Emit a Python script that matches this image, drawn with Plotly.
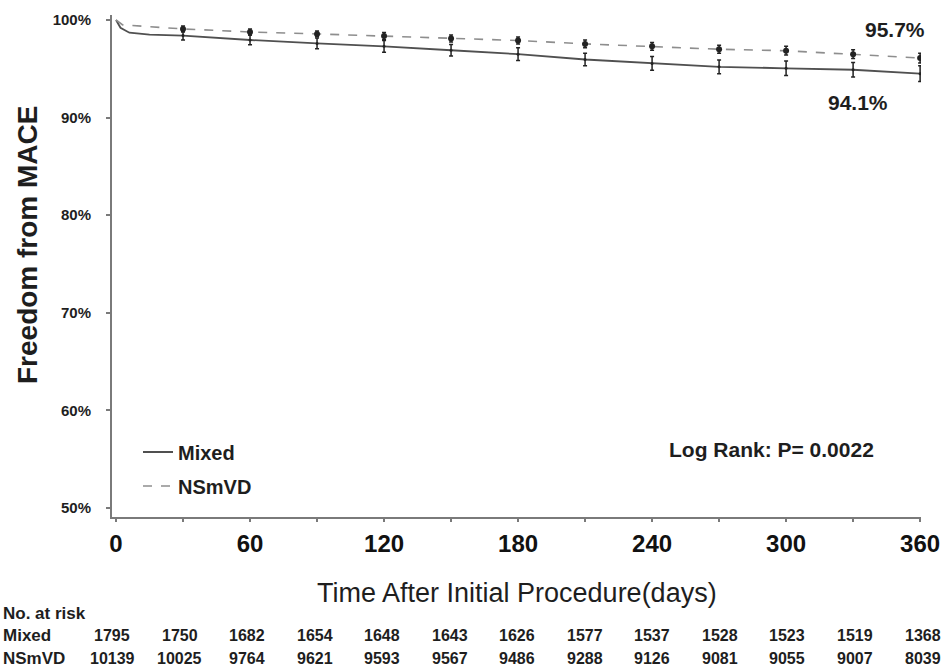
import plotly.graph_objects as go

# ---- data ----
mixed_days = [0, 2, 6, 15, 30, 60, 90, 120, 150, 180, 210, 240, 270, 300, 330, 360]
mixed_surv = [100.0, 99.2, 98.7, 98.5, 98.4, 97.95, 97.6, 97.3, 96.9, 96.5, 95.95, 95.55, 95.2, 95.05, 94.9, 94.5]
nsmvd_days = [0, 3, 30, 60, 90, 120, 150, 180, 210, 240, 270, 300, 330, 360]
nsmvd_surv = [100.0, 99.5, 99.08, 98.77, 98.57, 98.36, 98.1, 97.9, 97.55, 97.3, 97.0, 96.85, 96.5, 96.1]

ci_days = [30, 60, 90, 120, 150, 180, 210, 240, 270, 300, 330, 360]
mixed_ci_surv = [98.4, 97.95, 97.6, 97.3, 96.9, 96.5, 95.95, 95.55, 95.2, 95.05, 94.9, 94.5]
mixed_ci_err = [0.45, 0.5, 0.55, 0.6, 0.6, 0.65, 0.65, 0.7, 0.7, 0.75, 0.75, 0.8]
nsmvd_ci_surv = [99.08, 98.77, 98.57, 98.36, 98.1, 97.9, 97.55, 97.3, 97.0, 96.85, 96.5, 96.1]
nsmvd_ci_err = [0.3, 0.3, 0.3, 0.35, 0.35, 0.35, 0.4, 0.4, 0.4, 0.45, 0.45, 0.5]

x_tickvals = [0, 30, 60, 90, 120, 150, 180, 210, 240, 270, 300, 330, 360]
x_ticktext = ["0", "", "60", "", "120", "", "180", "", "240", "", "300", "", "360"]
y_tickvals = [50, 60, 70, 80, 90, 100]
y_ticktext = ["50%", "60%", "70%", "80%", "90%", "100%"]

risk_days = [0, 30, 60, 90, 120, 150, 180, 210, 240, 270, 300, 330, 360]
risk_mixed = [1795, 1750, 1682, 1654, 1648, 1643, 1626, 1577, 1537, 1528, 1523, 1519, 1368]
risk_nsmvd = [10139, 10025, 9764, 9621, 9593, 9567, 9486, 9288, 9126, 9081, 9055, 9007, 8039]

FONT = "Arial, 'Liberation Sans', sans-serif"
SOLID_C = "#505050"
DASH_C = "#8e8e8e"
BAR_C = "#222222"
TXT = "#1e1e1e"

L, R, T, B = 112, 921, 15, 517


def px2paper(px, py):
    return (px - L) / (R - L), (B - py) / (B - T)


fig = go.Figure()

fig.add_trace(go.Scatter(x=mixed_days, y=mixed_surv, mode="lines", name="Mixed",
                         line=dict(color=SOLID_C, width=1.8), legend="legend"))
fig.add_trace(go.Scatter(x=nsmvd_days, y=nsmvd_surv, mode="lines", name="NSmVD",
                         line=dict(color=DASH_C, width=1.6, dash="dash"), legend="legend2"))

fig.add_trace(go.Scatter(x=ci_days, y=mixed_ci_surv, mode="markers", showlegend=False,
                         marker=dict(color=BAR_C, size=3),
                         error_y=dict(type="data", array=mixed_ci_err, color=BAR_C,
                                      thickness=1.5, width=2)))
fig.add_trace(go.Scatter(x=ci_days, y=nsmvd_ci_surv, mode="markers", showlegend=False,
                         marker=dict(color=BAR_C, size=6),
                         error_y=dict(type="data", array=nsmvd_ci_err, color=BAR_C,
                                      thickness=1.5, width=2)))


def pann(px, py, text, size, bold=True, xanchor="center", angle=0):
    x, y = px2paper(px, py)
    return dict(x=x, y=y, xref="paper", yref="paper", text=text, showarrow=False,
                xanchor=xanchor, yanchor="middle", textangle=angle,
                font=dict(size=size, color=TXT, family=FONT, weight="bold" if bold else "normal"))


annotations = [
    pann(895, 30, "95.7%", 21),
    pann(858, 103, "94.1%", 21),
    pann(771, 449, "Log Rank: P= 0.0022", 21),
    pann(517, 593, "Time After Initial Procedure(days)", 27, bold=False),
    pann(27, 245, "Freedom from MACE", 28, angle=-90),
    pann(1, 613, "No. at risk", 17, xanchor="left"),
    pann(1, 635, "Mixed", 17, xanchor="left"),
    pann(1, 658, "NSmVD", 17, xanchor="left"),
]

_, ry1 = px2paper(0, 635)
_, ry2 = px2paper(0, 658)
for d, a, b in zip(risk_days, risk_mixed, risk_nsmvd):
    for yy, val in ((ry1, a), (ry2, b)):
        annotations.append(dict(x=d, y=yy, xref="x", yref="paper", text=str(val),
                                showarrow=False, xanchor="center", yanchor="middle",
                                xshift=-4 + d * 0.018,
                                font=dict(size=16, color=TXT, family=FONT, weight="bold")))

lg1x, lg1y = px2paper(138, 452)
lg2x, lg2y = px2paper(138, 486)

fig.update_layout(
    width=942, height=671,
    margin=dict(l=L, r=942 - R, t=T, b=671 - B, autoexpand=False),
    plot_bgcolor="white", paper_bgcolor="white",
    font=dict(family=FONT, color=TXT),
    annotations=annotations,
    legend=dict(x=lg1x, y=lg1y, xanchor="left", yanchor="middle", bgcolor="rgba(0,0,0,0)",
                font=dict(size=20, family=FONT, color=TXT, weight="bold")),
    legend2=dict(x=lg2x, y=lg2y, xanchor="left", yanchor="middle", bgcolor="rgba(0,0,0,0)",
                 font=dict(size=20, family=FONT, color=TXT, weight="bold")),
    xaxis=dict(range=[-1.8, 360.4], tickvals=x_tickvals, ticktext=x_ticktext, automargin=False,
               showgrid=False, zeroline=False, showline=True, linecolor="#7a7a7a", linewidth=2,
               ticks="outside", ticklen=3, tickcolor="#7a7a7a", tickwidth=2,
               ticklabelstandoff=1,
               tickfont=dict(size=24, family=FONT, color="#111", weight="bold")),
    yaxis=dict(range=[49.08, 100.51], tickvals=y_tickvals, ticktext=y_ticktext, automargin=False,
               showgrid=False, zeroline=False, showline=True, linecolor="#7a7a7a", linewidth=2,
               ticks="outside", ticklen=4, tickcolor="#7a7a7a", tickwidth=1.5,
               ticklabelstandoff=12,
               tickfont=dict(size=15, family=FONT, color=TXT, weight="bold")),
)

fig.write_html("out.html")
